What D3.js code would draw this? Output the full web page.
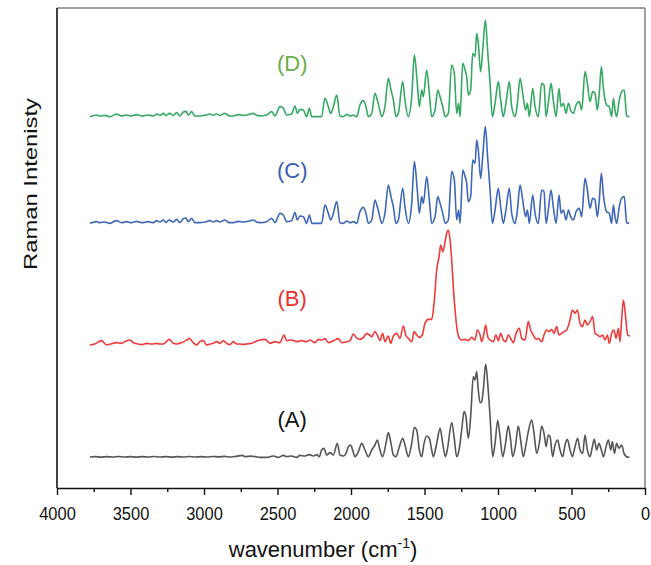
<!DOCTYPE html>
<html>
<head>
<meta charset="utf-8">
<script src="https://cdn.jsdelivr.net/npm/d3@7"></script>
<style>
  html, body { margin: 0; padding: 0; background: #fff; }
  svg { display: block; font-family: "Liberation Sans", Arial, sans-serif; }
</style>
</head>
<body>
<svg id="chart" width="651" height="565"></svg>
<script>
// Raman spectra, [wavenumber (cm-1), intensity (counts above the trace's own baseline)]
const spectrumA = [
  [3776,10],[3740,20],[3700,5],[3660,20],[3620,10],[3580,25],[3540,10],[3500,20],[3460,5],[3420,20],
  [3380,10],[3340,25],[3300,10],[3260,20],[3220,5],[3180,20],[3140,10],[3100,25],[3060,10],[3020,20],
  [2980,10],[2940,25],[2900,15],[2860,30],[2820,10],[2780,30],[2740,60],[2720,20],[2680,35],[2650,20],
  [2619,0],[2574,0],[2528,40],[2494,0],[2460,60],[2438,20],[2404,40],[2370,0],[2347,60],[2313,40],
  [2283,80],[2256,40],[2233,80],[2215,20],[2200,220],[2184,270],[2165,70],[2143,140],[2120,70],[2093,420],
  [2075,70],[2052,40],[2034,120],[2018,320],[2002,370],[1989,220],[1973,20],[1950,170],[1927,420],[1905,220],
  [1882,20],[1859,220],[1837,370],[1821,520],[1803,220],[1785,20],[1762,420],[1746,740],[1728,420],[1712,70],
  [1694,20],[1671,320],[1648,570],[1630,320],[1610,20],[1587,420],[1569,900],[1553,820],[1535,220],[1519,20],
  [1503,420],[1485,640],[1467,570],[1451,220],[1440,20],[1417,420],[1394,870],[1376,420],[1358,20],[1345,220],
  [1315,1040],[1299,620],[1281,20],[1265,220],[1247,820],[1231,1370],[1218,1220],[1202,570],[1186,1220],[1168,2420],
  [1156,2320],[1145,2570],[1134,2020],[1122,1640],[1111,1670],[1100,2020],[1084,2800],[1070,2220],[1054,1220],[1036,20],
  [1020,420],[1002,1100],[986,620],[968,20],[952,320],[930,940],[914,520],[900,20],[882,320],[862,940],
  [846,520],[828,20],[812,320],[794,770],[771,1120],[755,720],[737,120],[719,420],[703,940],[687,720],
  [673,320],[658,670],[646,620],[628,20],[612,370],[594,520],[578,220],[560,20],[544,370],[528,540],
  [510,220],[494,20],[476,320],[458,570],[442,220],[424,120],[408,670],[392,220],[374,20],[358,320],
  [345,540],[329,220],[313,420],[297,220],[283,20],[265,320],[249,520],[233,220],[222,470],[208,120],
  [193,420],[177,270],[159,370],[143,120],[125,20],[107,0]
];

const spectrumB = [
  [3776,10],[3742,40],[3697,140],[3663,10],[3640,30],[3595,80],[3561,60],[3527,140],[3504,160],[3481,80],
  [3447,40],[3424,20],[3390,60],[3356,40],[3322,60],[3300,40],[3277,40],[3236,180],[3209,60],[3186,40],
  [3152,80],[3123,140],[3100,210],[3073,80],[3050,10],[3028,110],[3005,140],[2982,10],[2960,40],[2937,60],
  [2914,110],[2892,60],[2869,140],[2846,60],[2824,20],[2801,110],[2778,40],[2756,40],[2733,30],[2710,40],
  [2676,60],[2653,110],
  [2619,160],[2585,180],[2551,60],[2517,110],[2483,80],[2456,310],[2438,140],[2404,160],[2370,110],[2336,140],
  [2302,110],[2279,160],[2245,80],[2222,180],[2200,160],[2177,200],[2154,80],[2120,140],[2086,200],[2063,80],
  [2029,110],[2007,140],[1984,340],[1961,210],[1939,180],[1916,240],[1893,360],[1875,310],[1859,260],[1837,410],
  [1821,310],[1803,140],[1785,360],[1769,110],[1746,280],[1730,60],[1712,280],[1689,360],[1667,210],[1644,580],
  [1628,310],[1610,210],[1587,110],[1571,410],[1553,310],[1535,240],[1515,310],[1497,660],[1474,780],[1451,780],
  [1435,1260],[1417,2260],[1401,2660],[1390,3010],[1376,2810],[1360,3110],[1349,3360],[1338,3460],[1326,3160],[1315,2560],
  [1304,1760],[1292,1060],[1281,560],[1263,210],[1247,160],[1224,180],[1202,140],[1179,240],[1156,160],[1141,460],
  [1122,310],[1111,110],[1095,360],[1084,610],[1070,260],[1054,160],[1032,110],[1014,310],[998,140],[982,360],
  [964,160],[948,110],[930,310],[914,210],[896,80],[877,360],[855,510],[839,210],[816,160],[794,710],
  [778,460],[760,310],[741,180],[726,210],[703,110],[687,310],[669,460],[651,410],[635,480],[619,360],
  [601,560],[585,310],[567,360],[551,410],[533,460],[510,760],[494,1060],[476,960],[460,1060],[442,660],
  [426,560],[408,760],[392,610],[374,710],[356,860],[340,360],[324,310],[306,260],[288,310],[272,160],
  [256,310],[243,60],[227,360],[211,460],[197,210],[181,510],[170,110],[159,760],[147,1360],[132,860],
  [118,310],[102,280]
];

// Spectra (C) and (D) share the same band profile
const spectrumC = [
  [3776,0],[3731,50],[3708,20],[3674,40],[3640,0],[3595,80],[3561,20],[3527,50],[3493,20],[3459,60],
  [3424,20],[3379,50],[3345,20],[3322,80],[3300,40],[3277,100],[3259,30],[3236,100],[3209,40],[3186,120],
  [3164,20],[3141,140],[3123,160],[3107,50],[3084,150],[3062,20],[3028,20],[2994,40],[2960,80],[2937,40],
  [2914,80],[2892,40],[2858,100],[2828,20],[2801,20],[2767,60],[2733,40],[2699,60],[2665,100],[2642,40],
  [2619,20],[2574,50],[2540,150],[2517,20],[2483,300],[2460,250],[2438,50],[2404,80],[2381,320],[2365,100],
  [2347,220],[2324,200],[2302,0],[2283,250],[2267,0],[2200,0],[2177,550],[2154,300],[2138,100],[2120,300],
  [2097,650],[2075,20],[2052,0],[2029,70],[2007,20],[1984,50],[1961,0],[1939,350],[1916,480],[1898,300],
  [1882,0],[1859,100],[1837,700],[1821,500],[1807,250],[1791,0],[1769,300],[1746,1150],[1728,800],[1712,500],
  [1694,0],[1678,100],[1648,1050],[1633,500],[1610,0],[1587,600],[1569,1850],[1549,1000],[1535,300],[1519,800],
  [1508,600],[1485,1400],[1467,700],[1451,0],[1428,200],[1410,800],[1394,600],[1376,300],[1358,0],[1338,100],
  [1315,1550],[1297,1300],[1281,100],[1268,400],[1258,0],[1240,1600],[1224,1400],[1213,1200],[1202,650],[1186,800],
  [1172,1900],[1156,1800],[1145,2500],[1134,2200],[1118,1350],[1104,2000],[1086,2900],[1070,1950],[1054,1000],[1038,0],
  [1020,400],[998,1050],[982,500],[964,0],[946,400],[923,1050],[907,300],[884,0],[868,400],[850,1150],
  [832,700],[812,200],[800,400],[787,0],[764,850],[748,300],[726,0],[703,1000],[687,950],[673,0],
  [658,400],[639,1000],[624,500],[605,0],[585,850],[571,300],[555,400],[537,100],[521,400],[506,200],
  [487,100],[469,350],[447,450],[431,200],[408,1350],[392,1000],[374,450],[356,750],[340,700],[324,200],
  [311,700],[297,1500],[283,850],[261,350],[243,300],[227,0],[215,550],[204,200],[193,0],[175,500],
  [159,750],[141,800],[125,20],[107,0]
];
const spectrumD = spectrumC;

// Stacking offsets, colours and label levels for each trace
const seriesNames = ["(A)", "(B)", "(C)", "(D)"];
const seriesOffsets = [920, 4280, 7940, 11140];
const seriesColors = ["#555555", "#ee3b3b", "#3d67b8", "#35a963"];
const labelColors = ["#111111", "#e8302f", "#3a5db4", "#6aac4a"];
const labelLevels = [910, 1180, 1360, 1370];
const labelWn = 2400;
const majorTicks = [4000, 3500, 3000, 2500, 2000, 1500, 1000, 500, 0];
const minorTicks = [3750, 3250, 2750, 2250, 1750, 1250, 750, 250];

const svg = d3.select("#chart");
const W = 651, H = 565;
const m = { left: 57, right: 6, top: 8, bottom: 77 };

const x = d3.scaleLinear().domain([4000, 0]).range([m.left, W - m.right]);
const y = d3.scaleLinear().domain([0, 14400]).range([H - m.bottom, m.top]);

// Spectral traces
const spectra = [spectrumA, spectrumB, spectrumC, spectrumD];
spectra.forEach((s, i) => {
  const line = d3.line()
    .curve(d3.curveMonotoneX)
    .x(d => x(d[0]))
    .y(d => y(d[1] + seriesOffsets[i]));
  svg.append("path")
    .datum(s.slice().reverse())
    .attr("fill", "none")
    .attr("stroke", seriesColors[i])
    .attr("stroke-width", 1.6)
    .attr("stroke-linejoin", "round")
    .attr("d", line);
});

// Series labels
seriesNames.forEach((name, i) => {
  svg.append("text")
    .attr("x", x(labelWn))
    .attr("y", y(seriesOffsets[i] + labelLevels[i]))
    .attr("text-anchor", "middle")
    .attr("font-size", 22)
    .attr("fill", labelColors[i])
    .text(name);
});

// Frame: top and right edges in grey
svg.append("line")
  .attr("x1", m.left).attr("x2", W - m.right)
  .attr("y1", m.top).attr("y2", m.top)
  .attr("stroke", "#7f7f7f").attr("stroke-width", 1.5);
svg.append("line")
  .attr("x1", W - m.right).attr("x2", W - m.right)
  .attr("y1", m.top).attr("y2", H - m.bottom)
  .attr("stroke", "#7f7f7f").attr("stroke-width", 1.5);

// Left axis line (no ticks)
svg.append("line")
  .attr("x1", m.left).attr("x2", m.left)
  .attr("y1", m.top).attr("y2", H - m.bottom)
  .attr("stroke", "#111").attr("stroke-width", 1.6);

// Bottom axis: major and minor ticks
const gMinor = svg.append("g")
  .attr("transform", `translate(0,${H - m.bottom})`)
  .call(d3.axisBottom(x).tickValues(minorTicks).tickSize(4).tickFormat(""));
gMinor.select(".domain").remove();
gMinor.selectAll("line").attr("stroke", "#111").attr("stroke-width", 1.4);

const gMajor = svg.append("g")
  .attr("transform", `translate(0,${H - m.bottom})`)
  .call(d3.axisBottom(x).tickValues(majorTicks).tickSize(7).tickSizeOuter(0).tickPadding(12).tickFormat(d3.format("d")));
gMajor.select(".domain").attr("stroke", "#111").attr("stroke-width", 1.6);
gMajor.selectAll("line").attr("stroke", "#111").attr("stroke-width", 1.4);
gMajor.selectAll("text")
  .attr("font-family", "'Liberation Sans', Arial, sans-serif")
  .attr("font-size", 18.5)
  .attr("fill", "#111")
  .each(function () {
    // slightly condensed numerals
    const w = this.getComputedTextLength();
    d3.select(this).attr("textLength", w * 0.89).attr("lengthAdjust", "spacingAndGlyphs");
  });

// Axis titles
const xt = svg.append("text")
  .attr("x", 323)
  .attr("y", 557)
  .attr("text-anchor", "middle")
  .attr("font-size", 22)
  .attr("fill", "#111");
xt.append("tspan").text("wavenumber (cm");
xt.append("tspan").attr("font-size", 14).attr("dy", -9).text("-1");
xt.append("tspan").attr("dy", 9).text(")");

svg.append("text")
  .attr("transform", "translate(37,184) rotate(-90)")
  .attr("text-anchor", "middle")
  .attr("font-size", 18)
  .attr("textLength", 172)
  .attr("lengthAdjust", "spacingAndGlyphs")
  .attr("fill", "#111")
  .text("Raman Intenisty");
</script>
</body>
</html>
